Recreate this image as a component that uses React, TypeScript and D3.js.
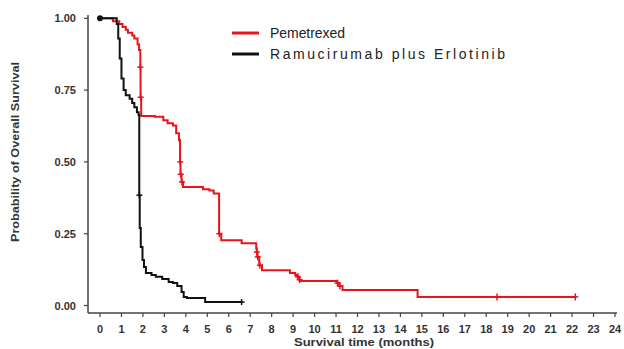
import React from 'react';
import * as d3 from 'd3';

// Kaplan-Meier estimates: [month, survival after step]
const pemetrexedSteps: [number, number][] = [
  [0, 1.0], [0.6, 0.99], [0.9, 0.98], [1.05, 0.97], [1.2, 0.96], [1.3, 0.95],
  [1.5, 0.94], [1.6, 0.93], [1.75, 0.91], [1.82, 0.89], [1.88, 0.83], [1.89, 0.725],
  [1.92, 0.66], [2.55, 0.657], [2.95, 0.645], [3.15, 0.635], [3.4, 0.627],
  [3.55, 0.6], [3.68, 0.575], [3.73, 0.5], [3.75, 0.457], [3.8, 0.43], [3.87, 0.413],
  [4.8, 0.405], [5.1, 0.4], [5.3, 0.39], [5.55, 0.25], [5.65, 0.227], [6.6, 0.217],
  [7.28, 0.2], [7.3, 0.186], [7.33, 0.169], [7.42, 0.14], [7.55, 0.123],
  [8.85, 0.113], [9.1, 0.106], [9.2, 0.1], [9.28, 0.09], [9.35, 0.085],
  [11.05, 0.078], [11.15, 0.068], [11.3, 0.054], [14.8, 0.03]
];
const pemetrexedEnd = 22.15;
const pemetrexedCensor = [1.88, 1.895, 3.74, 3.76, 3.82, 5.56, 7.31, 7.35, 7.45, 9.22, 9.3, 11.07, 11.18, 18.5, 22.15];

const ramuSteps: [number, number][] = [
  [0, 1.0], [0.78, 0.98], [0.85, 0.93], [0.92, 0.86], [1.0, 0.79], [1.1, 0.75],
  [1.2, 0.732], [1.38, 0.72], [1.5, 0.705], [1.6, 0.69], [1.72, 0.673], [1.8, 0.663],
  [1.83, 0.384], [1.85, 0.27], [1.9, 0.204], [1.98, 0.158], [2.05, 0.134],
  [2.14, 0.113], [2.4, 0.106], [2.6, 0.1], [2.9, 0.092], [3.2, 0.082], [3.4, 0.078],
  [3.6, 0.068], [3.8, 0.047], [3.9, 0.03], [4.05, 0.026], [4.9, 0.012]
];
const ramuEnd = 6.6;
const ramuCensor = [1.835, 6.6];

const xTicks = d3.range(0, 25);
const yTicks = [0, 0.25, 0.5, 0.75, 1.0];

const seriesNames = ['Pemetrexed', 'Ramucirumab plus Erlotinib'];
const RED = '#e8141b';
const BLACK = '#111111';

const survivalAt = (steps: [number, number][], t: number) => {
  let s = steps[0][1];
  for (const [tt, v] of steps) if (tt <= t) s = v;
  return s;
};

const App = () => {
  const x = d3.scaleLinear().domain([0, 24]).range([100, 615]);
  const y = d3.scaleLinear().domain([0, 1]).range([305.5, 18.3]);
  const line = d3.line<[number, number]>()
    .x(d => x(d[0]))
    .y(d => y(d[1]))
    .curve(d3.curveStepAfter);

  const redPts: [number, number][] = [...pemetrexedSteps, [pemetrexedEnd, pemetrexedSteps[pemetrexedSteps.length - 1][1]]];
  const blackPts: [number, number][] = [...ramuSteps, [ramuEnd, ramuSteps[ramuSteps.length - 1][1]]];

  const axisX0 = 88;
  const axisY = 313;
  const font = '"Liberation Sans", Arial, sans-serif';

  return (
    <svg width={624} height={349} style={{ position: 'absolute', left: 0, top: 0, background: '#fff' }}>
      {/* axes */}
      <line x1={axisX0} x2={axisX0} y1={15} y2={axisY} stroke="#444" strokeWidth={1.5} />
      <line x1={axisX0} x2={617} y1={axisY} y2={axisY} stroke="#444" strokeWidth={1.5} />
      {yTicks.map(t => (
        <g key={t}>
          <line x1={axisX0 - 4} x2={axisX0} y1={y(t)} y2={y(t)} stroke="#444" strokeWidth={1.2} />
          <text x={76} y={y(t) + 4} textAnchor="end" fontFamily={font} fontWeight="bold" fontSize={11} fill="#333">
            {d3.format('.2f')(t)}
          </text>
        </g>
      ))}
      {xTicks.map(t => (
        <g key={t}>
          <line x1={x(t)} x2={x(t)} y1={axisY} y2={axisY + 4} stroke="#444" strokeWidth={1.2} />
          <text x={x(t)} y={333} textAnchor="middle" fontFamily={font} fontWeight="bold" fontSize={11} fill="#333">
            {t}
          </text>
        </g>
      ))}
      <text x={364} y={346} textAnchor="middle" fontFamily={font} fontWeight="bold" fontSize={11} fill="#333"
        textLength={140} lengthAdjust="spacingAndGlyphs">Survival time (months)</text>
      <text transform="translate(19,152) rotate(-90)" textAnchor="middle" fontFamily={font} fontWeight="bold" fontSize={11}
        fill="#333" textLength={180} lengthAdjust="spacingAndGlyphs">Probability of Overall Survival</text>

      {/* curves */}
      <path d={line(redPts) ?? ''} fill="none" stroke={RED} strokeWidth={2} />
      <path d={line(blackPts) ?? ''} fill="none" stroke={BLACK} strokeWidth={2} />
      {pemetrexedCensor.map((t, i) => (
        <line key={'r' + i} x1={x(t)} x2={x(t)} y1={y(survivalAt(pemetrexedSteps, t)) - 3.5}
          y2={y(survivalAt(pemetrexedSteps, t)) + 3.5} stroke={RED} strokeWidth={1.5} />
      ))}
      {pemetrexedCensor.map((t, i) => (
        <line key={'rh' + i} x1={x(t) - 3} x2={x(t) + 3} y1={y(survivalAt(pemetrexedSteps, t))}
          y2={y(survivalAt(pemetrexedSteps, t))} stroke={RED} strokeWidth={1.5} />
      ))}
      {ramuCensor.map((t, i) => (
        <line key={'b' + i} x1={x(t) - 3} x2={x(t) + 3} y1={y(survivalAt(ramuSteps, t))}
          y2={y(survivalAt(ramuSteps, t))} stroke={BLACK} strokeWidth={1.5} />
      ))}
      {ramuCensor.map((t, i) => (
        <line key={'bv' + i} x1={x(t)} x2={x(t)} y1={y(survivalAt(ramuSteps, t)) - 3}
          y2={y(survivalAt(ramuSteps, t)) + 3} stroke={BLACK} strokeWidth={1.5} />
      ))}
      <circle cx={x(0)} cy={y(1)} r={3} fill={BLACK} />

      {/* legend */}
      {seriesNames.map((name, i) => (
        <g key={name} transform={`translate(232,${33 + i * 21})`}>
          <line x1={0} x2={27} y1={0} y2={0} stroke={i === 0 ? RED : BLACK} strokeWidth={3} />
          <text x={38} y={5} fontFamily={font} fontSize={14} fill="#222"
            textLength={i === 0 ? 75 : 235} lengthAdjust="spacing">{name}</text>
        </g>
      ))}
    </svg>
  );
};

export default App;
